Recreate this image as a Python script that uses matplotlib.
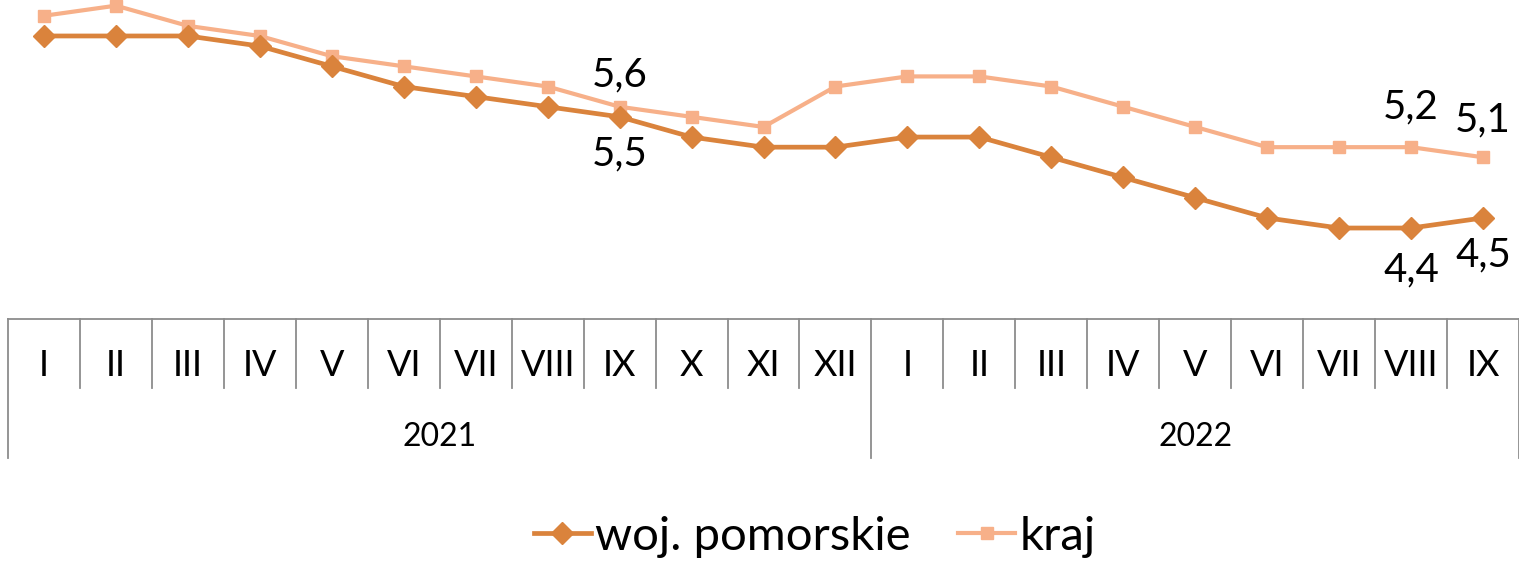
import matplotlib.pyplot as plt

plt.rcParams['font.family'] = ['Lato', 'DejaVu Sans']

months = ['I', 'II', 'III', 'IV', 'V', 'VI', 'VII', 'VIII', 'IX', 'X', 'XI', 'XII',
          'I', 'II', 'III', 'IV', 'V', 'VI', 'VII', 'VIII', 'IX']
years = ['2021', '2022']
months_per_year = [12, 9]
pomorskie = [6.3, 6.3, 6.3, 6.2, 6.0, 5.8, 5.7, 5.6, 5.5, 5.3, 5.2, 5.2,
             5.3, 5.3, 5.1, 4.9, 4.7, 4.5, 4.4, 4.4, 4.5]
kraj = [6.5, 6.6, 6.4, 6.3, 6.1, 6.0, 5.9, 5.8, 5.6, 5.5, 5.4, 5.8,
        5.9, 5.9, 5.8, 5.6, 5.4, 5.2, 5.2, 5.2, 5.1]
# which points get a value label
labels_pom = [8, 19, 20]
labels_kraj = [8, 19, 20]

dark = '#DA833C'
light = '#F7B089'
grey = '#8C8C8C'

W, H = 1519, 563
fig = plt.figure(figsize=(W / 100, H / 100), dpi=100)
ax = fig.add_axes([8 / W, 1 - 319 / H, 1 - 8 / W, 319 / H])

x = list(range(len(months)))
ax.plot(x, kraj, color=light, lw=3.0, marker='s', markersize=9, label='kraj',
        clip_on=False, zorder=3)
ax.plot(x, pomorskie, color=dark, lw=3.4, marker='D', markersize=11,
        label='woj. pomorskie', clip_on=False, zorder=4)

def fmt(v):
    return f'{v:.1f}'.replace('.', ',')

# label offsets in points (above for kraj, below for pomorskie)
off_kraj = {8: 23, 19: 29, 20: 27}
off_pom = {8: -27, 19: -30, 20: -27}
for i in labels_kraj:
    ax.annotate(fmt(kraj[i]), (i, kraj[i]), xytext=(0, off_kraj[i]),
                textcoords='offset points', ha='center', va='center', fontsize=29)
for i in labels_pom:
    ax.annotate(fmt(pomorskie[i]), (i, pomorskie[i]), xytext=(0, off_pom[i]),
                textcoords='offset points', ha='center', va='center', fontsize=29)

ax.set_xlim(-0.5, len(months) - 0.5)
ax.set_ylim(3.5, 6.656)
ax.set_xticks([])
ax.set_yticks([])
for s in ['top', 'left', 'right']:
    ax.spines[s].set_visible(False)
ax.spines['bottom'].set_color(grey)
ax.spines['bottom'].set_linewidth(1.3)

tr = ax.get_xaxis_transform()
ah = 319.0
for i, m in enumerate(months):
    ax.text(i, -46 / ah, m, transform=tr, ha='center', va='center', fontsize=26)

# separators
start = 0
bounds = []
for n in months_per_year:
    bounds.append(start)
    start += n
bounds.append(start)
for b in range(len(months) + 1):
    if b in bounds:
        ax.plot([b - 0.5, b - 0.5], [0, -139 / ah], transform=tr, color=grey,
                lw=1.3, clip_on=False)
    else:
        ax.plot([b - 0.5, b - 0.5], [0, -69 / ah], transform=tr, color=grey,
                lw=1.3, clip_on=False)

for k, yr in enumerate(years):
    c = (bounds[k] + bounds[k + 1] - 1) / 2
    ax.text(c, -118 / ah, yr, transform=tr, ha='center', va='center', fontsize=23)

h, l = ax.get_legend_handles_labels()
fig.legend(h[::-1], l[::-1], loc='center', bbox_to_anchor=(815 / W, 1 - 537 / H),
           ncol=2, frameon=False, fontsize=34, handlelength=1.2, handletextpad=0.1,
           columnspacing=1.0)

fig.savefig('out.png', dpi=100)
